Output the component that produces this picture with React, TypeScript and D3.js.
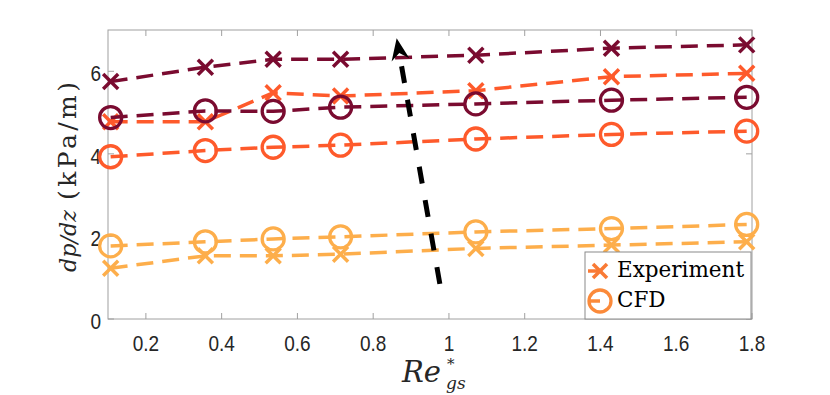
import React from 'react';
import * as d3 from 'd3';

// Re*_gs values (x) shared by every series
const reGs = [0.107, 0.357, 0.536, 0.714, 1.071, 1.429, 1.786];

// dp/dz in kPa/m
const expLow = [1.23, 1.53, 1.53, 1.57, 1.71, 1.79, 1.87];
const cfdLow = [1.77, 1.87, 1.94, 1.99, 2.11, 2.19, 2.29];
const expMid = [4.78, 4.78, 5.48, 5.40, 5.53, 5.87, 5.95];
const cfdMid = [3.93, 4.08, 4.16, 4.21, 4.36, 4.47, 4.55];
const expHigh = [5.75, 6.10, 6.29, 6.29, 6.39, 6.56, 6.64];
const cfdHigh = [4.88, 5.04, 5.03, 5.13, 5.21, 5.30, 5.37];

const xTicks = [0.2, 0.4, 0.6, 0.8, 1, 1.2, 1.4, 1.6, 1.8];
const yTicks = [0, 2, 4, 6];

// trend arrow, in data units: [tail, tip]
const arrowPts = [[0.976, 0.85], [0.862, 6.8]];

const cLow = '#fdae4b';
const cMid = '#fe5a2b';
const cHigh = '#7a0b30';

const series = [
  {vals: expLow, color: cLow, mark: 'x'},
  {vals: cfdLow, color: cLow, mark: 'o'},
  {vals: expMid, color: cMid, mark: 'x'},
  {vals: cfdMid, color: cMid, mark: 'o'},
  {vals: expHigh, color: cHigh, mark: 'x'},
  {vals: cfdHigh, color: cHigh, mark: 'o'},
];

const W = 830, H = 395;
const left = 108, right = 752, top = 30, bottom = 319;

function Cross({x, y, color, s = 7.5}) {
  return (
    <g stroke={color} strokeWidth={3.5}>
      <line x1={x - s} y1={y - s} x2={x + s} y2={y + s} />
      <line x1={x - s} y1={y + s} x2={x + s} y2={y - s} />
    </g>
  );
}

export default function App() {
  const x = d3.scaleLinear().domain([0.1, 1.8]).range([left, right]);
  const y = d3.scaleLinear().domain([0, 7]).range([bottom, top]);
  const line = d3.line<number>().x((d, i) => x(reGs[i])).y(d => y(d));

  // arrow geometry
  const [ax0, ay0] = [x(arrowPts[0][0]), y(arrowPts[0][1])];
  const [ax1, ay1] = [x(arrowPts[1][0]), y(arrowPts[1][1])];
  const len = Math.hypot(ax1 - ax0, ay1 - ay0);
  const ux = (ax1 - ax0) / len, uy = (ay1 - ay0) / len;
  const px = -uy, py = ux;
  const hl = 22, hw = 9, notch = 7;
  const bx = ax1 - ux * hl, by = ay1 - uy * hl;
  const head = `M${ax1},${ay1} L${bx + px * hw},${by + py * hw} L${ax1 - ux * (hl - notch)},${ay1 - uy * (hl - notch)} L${bx - px * hw},${by - py * hw} Z`;

  const axisCol = '#a0a0a0';
  const txtCol = '#262626';
  const serif = "'DejaVu Serif', serif";
  const sans = "'Liberation Sans', Arial, sans-serif";

  return (
    <svg width={W} height={H} style={{position: 'absolute', left: 0, top: 0, background: '#fff'}}>
      {/* box and ticks */}
      <rect x={left} y={top} width={right - left} height={bottom - top} fill="none" stroke={axisCol} strokeWidth={1} />
      {xTicks.map(t => (
        <g key={'xt' + t} stroke={axisCol}>
          <line x1={x(t)} x2={x(t)} y1={bottom} y2={bottom - 6} />
          <line x1={x(t)} x2={x(t)} y1={top} y2={top + 6} />
        </g>
      ))}
      {yTicks.map(t => (
        <g key={'yt' + t} stroke={axisCol}>
          <line x1={left} x2={left + 6} y1={y(t)} y2={y(t)} />
          <line x1={right} x2={right - 6} y1={y(t)} y2={y(t)} />
        </g>
      ))}
      {xTicks.map(t => (
        <text key={'xl' + t} transform={`translate(${x(t)},${bottom + 32}) scale(0.95,1.1)`} textAnchor="middle" fontFamily={sans} fontSize={20} fill={txtCol}>{t}</text>
      ))}
      {yTicks.map(t => (
        <text key={'yl' + t} transform={`translate(${left - 7},${y(t) + 10}) scale(0.95,1.1)`} textAnchor="end" fontFamily={sans} fontSize={20} fill={txtCol}>{t}</text>
      ))}

      {/* series */}
      {series.map((s, k) => (
        <g key={'s' + k}>
          <path d={line(s.vals) || ''} fill="none" stroke={s.color} strokeWidth={3.5} strokeDasharray="17,9" />
          {s.vals.map((v, i) => s.mark === 'x'
            ? <Cross key={i} x={x(reGs[i])} y={y(v)} color={s.color} />
            : <circle key={i} cx={x(reGs[i])} cy={y(v)} r={11} fill="none" stroke={s.color} strokeWidth={3.3} />)}
        </g>
      ))}

      {/* trend arrow */}
      <line x1={ax0} y1={ay0} x2={ax1 - ux * (hl - notch)} y2={ay1 - uy * (hl - notch)} stroke="#000" strokeWidth={5} strokeDasharray="17,17" />
      <path d={head} fill="#000" />

      {/* legend */}
      <rect x={585} y={252} width={166} height={67} fill="#fff" stroke="#8a8a8a" strokeWidth={1} />
      <line x1={588} x2={600} y1={271} y2={271} stroke="#f97a35" strokeWidth={3.5} />
      <Cross x={600} y={271} color="#f97a35" s={7} />
      <line x1={589} x2={600} y1={301} y2={301} stroke="#fb8a3a" strokeWidth={3.5} />
      <circle cx={600} cy={301} r={11} fill="none" stroke="#fb8a3a" strokeWidth={3.3} />
      <text x={617} y={277} fontFamily={serif} fontSize={21.5} fill="#000">Experiment</text>
      <text x={617} y={307} fontFamily={serif} fontSize={21.5} fill="#000">CFD</text>

      {/* axis labels */}
      <g transform="translate(76,272) rotate(-90)" fontFamily={serif} fill={txtCol}>
        <text x={0} y={0} fontSize={22} fontStyle="italic" textLength={62} lengthAdjust="spacingAndGlyphs">dp/dz</text>
        <text x={72} y={0} fontSize={25} textLength={118} lengthAdjust="spacing">(kPa/m)</text>
      </g>
      <text x={402} y={382} fontFamily={serif} fill={txtCol} fontStyle="italic">
        <tspan fontSize={29}>Re</tspan>
        <tspan x={447} y={369} fontSize={15} fontStyle="normal">*</tspan>
        <tspan x={446} y={389} fontSize={17}>gs</tspan>
      </text>
    </svg>
  );
}
